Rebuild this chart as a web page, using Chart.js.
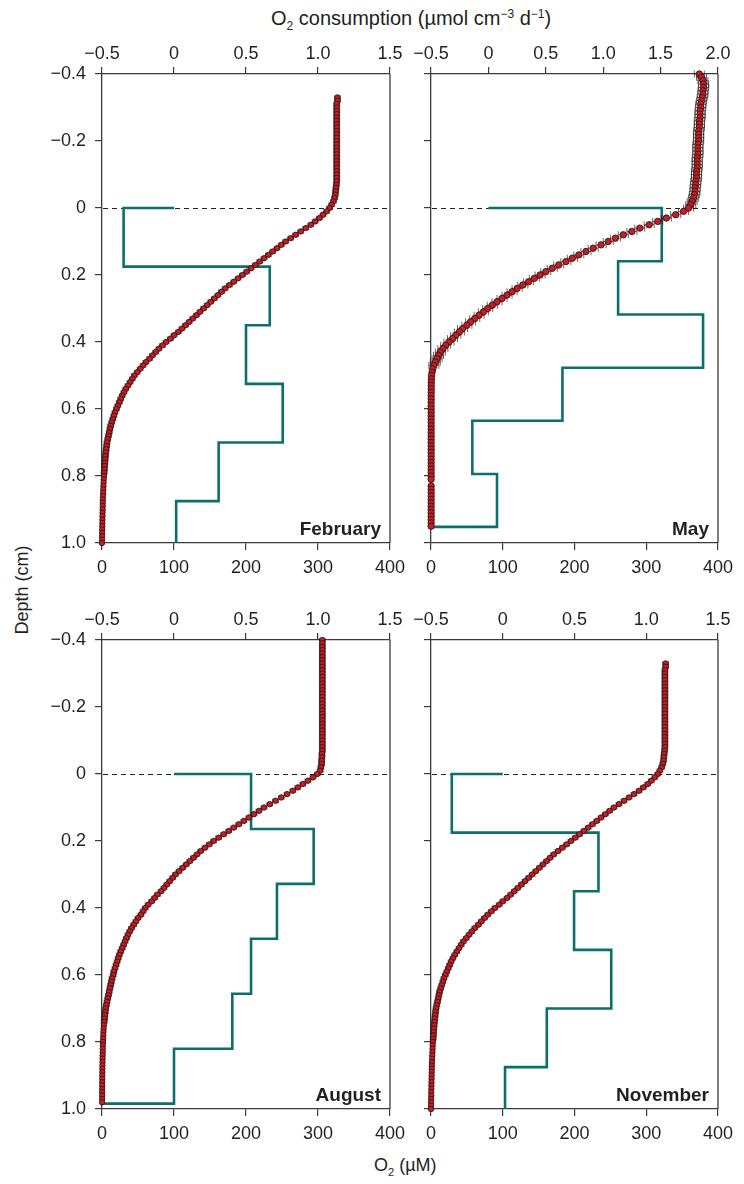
<!DOCTYPE html>
<html>
<head>
<meta charset="utf-8">
<title>O2 profiles</title>
<script src="https://cdn.jsdelivr.net/npm/chart.js@4.4.0/dist/chart.umd.min.js"></script>
<style>
body { margin:0; background:#fff; width:744px; height:1184px; position:relative; overflow:hidden;
       font-family:'Liberation Sans', Arial, sans-serif; color:#231f20; }
canvas { position:absolute; }
.lbl { position:absolute; font-size:18px; line-height:1; white-space:nowrap; }
.sb { font-size:11px; position:relative; top:5px; }
.sp { font-size:11px; position:relative; top:-7px; }
</style>
</head>
<body>
<div class="lbl" style="left:271px; top:8px; font-size:20px;">O<span class="sb" style="font-size:12px;">2</span> consumption (µmol cm<span class="sp" style="font-size:12px;">−3</span> d<span class="sp" style="font-size:12px;">−1</span>)</div>
<div class="lbl" style="left:22px; top:590px; transform:translate(-50%,-50%) rotate(-90deg);">Depth (cm)</div>
<div class="lbl" style="left:374px; top:1156px;">O<span class="sb">2</span> (µM)</div>

<canvas id="feb" width="420" height="550" style="left:0; top:30px;"></canvas>
<canvas id="may" width="334" height="550" style="left:410px; top:30px;"></canvas>
<canvas id="aug" width="420" height="560" style="left:0; top:590px;"></canvas>
<canvas id="nov" width="334" height="560" style="left:410px; top:590px;"></canvas>

<script>
// depth of each microsensor reading (cm), negative = water above sediment
const depth = [
  -0.40,-0.39,-0.38,-0.37,-0.36,-0.35,-0.34,-0.33,-0.32,-0.31,
  -0.30,-0.29,-0.28,-0.27,-0.26,-0.25,-0.24,-0.23,-0.22,-0.21,
  -0.20,-0.19,-0.18,-0.17,-0.16,-0.15,-0.14,-0.13,-0.12,-0.11,
  -0.10,-0.09,-0.08,-0.07,-0.06,-0.05,-0.04,-0.03,-0.02,-0.01,
  0.00,0.01,0.02,0.03,0.04,0.05,0.06,0.07,0.08,0.09,
  0.10,0.11,0.12,0.13,0.14,0.15,0.16,0.17,0.18,0.19,
  0.20,0.21,0.22,0.23,0.24,0.25,0.26,0.27,0.28,0.29,
  0.30,0.31,0.32,0.33,0.34,0.35,0.36,0.37,0.38,0.39,
  0.40,0.41,0.42,0.43,0.44,0.45,0.46,0.47,0.48,0.49,
  0.50,0.51,0.52,0.53,0.54,0.55,0.56,0.57,0.58,0.59,
  0.60,0.61,0.62,0.63,0.64,0.65,0.66,0.67,0.68,0.69,
  0.70,0.71,0.72,0.73,0.74,0.75,0.76,0.77,0.78,0.79,
  0.80,0.81,0.82,0.83,0.84,0.85,0.86,0.87,0.88,0.89,
  0.90,0.91,0.92,0.93,0.94,0.95,0.96,0.97,0.98,0.99,
  1.00
];

// O2 concentration (uM) at each depth
const febO2 = [
  null,null,null,null,null,null,null,327,327,326,
  326,326,326,326,326,326,326,326,326,326,
  326,326,326,326,326,326,326,326,326,326,
  326,326,326,325.5,325,324.5,324,323,321.5,319,
  316,312,307,302,296,290,283,276,269,262,
  255,249,243,237,231,225,219,213,207,201,
  195,189,183,177,171,166,161,156,151,146,
  141,136,131,126,121,116,111,106,100,95,
  89,84,79,74.5,70,66,61,57,53,49,
  45,42,39,36,33,30.5,28,26,24,22,
  20,18,16.5,15,13.5,12,11,10,9,8,
  7,6.4,5.8,5.3,4.8,4.4,4,3.6,3.3,3,
  2.7,2.4,2.2,2,1.8,1.6,1.4,1.2,1.1,1,
  0.9,0.8,0.7,0.6,0.5,0.4,0.3,0.2,0.1,0.1,
  0
];
const mayO2 = [
  374,377,379,380,380,379,379,378,377,376,
  376,375,375,375,374,374,374,373,373,373,
  373,372,372,372,372,371,371,371,371,370,
  370,370,369,369,368,368,367,366,364,362,
  359,352,341,328,316,304,291,280,268,257,
  247,237,226,216,206,197,188,178,169,160,
  152,144,136,128,120,113,106,99,92,85.5,
  79,73,67,61,55,50,44,39.5,34.5,30,
  25,20.5,16.5,13,10.5,8.5,6,4,2.5,1.5,
  0.8,0.5,0.4,0.3,0.3,0.3,0.2,0.2,0.2,0.2,
  0.2,0.2,0.2,0.2,0.2,0.2,0.2,0.2,0.2,0.2,
  0.2,0.2,0.2,0.2,0.2,0.2,0.2,0.2,0.2,0.2,
  0.2,0.2,null,0.2,0.2,0.2,0.2,0.2,0.2,0.2,
  0.2,0.2,0.2,0.2,0.2,0.1,null,null,null,null,
  null
];
const augO2 = [
  306,306,306,306,306,306,306,306,306,306,
  306,306,306,306,306,306,306,306,306,306,
  306,306,306,306,306,306,306,306,306,306,
  306,306,306,306,305.5,305.5,305,305,304,303,
  299,293,286,279,272,265,257,249,241,233,
  225,218,211,204,197,190,183,176,169,162,
  155,149,143,137,132,127,122,117,112,107,
  102,98,94,90,86,82,77,73,69,64,
  60,57,54,50,47,44,41,38.5,36,34,
  32,30,28,26,24,22.5,21,19.5,18,16.5,
  15.5,14,13,12,11,10,9,8,7,6,
  5.2,4.6,4,3.5,3,2.6,2.3,2,1.8,1.6,
  1.4,1.2,1.1,1,0.9,0.8,0.7,0.6,0.5,0.5,
  0.4,0.4,0.3,0.3,0.3,0.2,0.2,0.2,0.1,null,
  null
];
const novO2 = [
  null,null,null,null,null,null,null,327,327,326,
  326,326,326,326,326,326,326,326,326,326,
  326,326,326,326,326,326,326,326,326,326,
  326,326,326,325.5,325,324.5,324,323,321.5,319,
  316,312,307,302,296,290,283,276,269,262,
  255,249,243,237,231,225,219,213,207,201,
  195,189,183,177,171,166,161,156,151,146,
  141,136,131,126,121,116,111,106,100,95,
  89,84,79,74.5,70,66,61,57,53,49,
  45,42,39,36,33,30.5,28,26,24,22,
  20,18,16.5,15,13.5,12,11,10,9,8,
  7,6.4,5.8,5.3,4.8,4.4,4,3.6,3.3,3,
  2.7,2.4,2.2,2,1.8,1.6,1.4,1.2,1.1,1,
  0.9,0.8,0.7,0.6,0.5,0.4,0.3,0.2,0.1,0.1,
  0
];

// modelled O2 consumption: layer boundaries (cm) and rate in each layer (umol cm-3 d-1)
const febLayers = [0, 0.175, 0.35, 0.525, 0.7, 0.875, 1.0];
const febRate   = [-0.35, 0.665, 0.5, 0.755, 0.31, 0.015];
const mayLayers = [0, 0.159, 0.318, 0.477, 0.635, 0.794, 0.952, 0.952];
const mayRate   = [1.51, 1.13, 1.87, 0.645, -0.14, 0.075, -0.5];
const augLayers = [0, 0.164, 0.328, 0.492, 0.656, 0.82, 0.984, 0.984];
const augRate   = [0.535, 0.97, 0.715, 0.535, 0.405, 0.0, -0.5];
const novLayers = [0, 0.175, 0.35, 0.525, 0.7, 0.875, 1.0];
const novRate   = [-0.355, 0.667, 0.497, 0.756, 0.307, 0.016];

// typical O2 measurement error (uM)
const febErr = 4, mayErr = 7, augErr = 4, novErr = 4;

// tick labels
const depthTicks = [-0.4, -0.2, 0, 0.2, 0.4, 0.6, 0.8, 1.0];
const o2Ticks = [0, 100, 200, 300, 400];
const rateTicks = [-0.5, 0, 0.5, 1.0, 1.5];
const rateTicksMay = [-0.5, 0, 0.5, 1.0, 1.5, 2.0];

const FONT = "'Liberation Sans', Arial, sans-serif";
const INK = '#231f20';
const AXIS = '#3a3a3a';
Chart.defaults.font.family = FONT;
Chart.defaults.color = INK;

function fmt(v) {
  if (Math.abs(v) < 1e-9) return '0';
  return v.toFixed(1).replace('-', '\u2212');
}

const decor = {
  id: 'decor',
  beforeDatasetsDraw(chart, args, opts) {
    const {ctx, chartArea: a, scales: {y}} = chart;
    const y0 = Math.round(y.getPixelForValue(0)) + 0.5;
    ctx.save();
    ctx.strokeStyle = '#222';
    ctx.lineWidth = 1.2;
    ctx.setLineDash([5, 4]);
    ctx.beginPath();
    ctx.moveTo(a.left + 1, y0);
    ctx.lineTo(a.right, y0);
    ctx.stroke();
    ctx.restore();
  },
  beforeDatasetDraw(chart, args, opts) {
    if (args.index !== 0) return;
    const {ctx, scales: {x, y}} = chart;
    ctx.save();
    ctx.strokeStyle = 'rgba(30,30,30,0.75)';
    ctx.lineWidth = 0.9;
    ctx.beginPath();
    chart.data.datasets[0].data.forEach(p => {
      if (p.x < 3) return;
      const py = y.getPixelForValue(p.y);
      const x1 = x.getPixelForValue(p.x - opts.err);
      const x2 = x.getPixelForValue(p.x + opts.err);
      ctx.moveTo(x1, py); ctx.lineTo(x2, py);
      ctx.moveTo(x1, py - opts.cap); ctx.lineTo(x1, py + opts.cap);
      ctx.moveTo(x2, py - opts.cap); ctx.lineTo(x2, py + opts.cap);
    });
    ctx.stroke();
    ctx.restore();
  },
  afterDraw(chart, args, opts) {
    const {ctx, chartArea: a} = chart;
    ctx.save();
    ctx.strokeStyle = AXIS;
    ctx.lineWidth = 1.3;
    ctx.beginPath();
    ctx.moveTo(a.right, a.top);
    ctx.lineTo(a.right, a.bottom);
    ctx.stroke();
    ctx.fillStyle = INK;
    ctx.font = 'bold 19px ' + FONT;
    ctx.textAlign = 'right';
    ctx.textBaseline = 'alphabetic';
    ctx.fillText(opts.label, a.right - 9, a.bottom - 8);
    ctx.restore();
  }
};

function makePanel(id, label, o2, layers, rate, err, rTicks, left, top) {
  const pts = [];
  o2.forEach((v, i) => { if (v !== null) pts.push({x: v, y: depth[i]}); });
  const steps = [{x: 0, y: layers[0]}];
  rate.forEach((r, i) => {
    steps.push({x: r, y: layers[i]});
    steps.push({x: r, y: layers[i + 1]});
  });
  const big = id === 'may';
  const fixTicks = arr => s => { s.ticks = arr.map(v => ({value: v})); };
  const axisCommon = {
    grid: {drawOnChartArea: false, drawTicks: true, tickLength: 7, color: AXIS, lineWidth: 1.2},
    border: {display: true, color: AXIS, width: 1.3}
  };
  new Chart(document.getElementById(id), {
    type: 'line',
    data: {
      datasets: [
        {
          data: pts, showLine: false, xAxisID: 'x', yAxisID: 'y', clip: false,
          pointRadius: big ? 3.2 : 2.7, pointBorderWidth: 0.9,
          pointBackgroundColor: '#c0202a', pointBorderColor: '#3a1010'
        },
        {
          data: steps, xAxisID: 'x2', yAxisID: 'y', clip: false,
          borderColor: '#0b6f6f', borderWidth: 2.6, pointRadius: 0, tension: 0,
          borderJoinStyle: 'miter'
        }
      ]
    },
    options: {
      responsive: false,
      animation: false,
      layout: {padding: {left: 0, top: 0, bottom: 0, right: left ? 30 : 26}},
      plugins: {
        legend: {display: false},
        tooltip: {enabled: false},
        decor: {label: label, err: err, cap: big ? 3.5 : 2.2}
      },
      scales: {
        x: Object.assign({
          type: 'linear', position: 'bottom', min: 0, max: 400,
          afterBuildTicks: fixTicks(o2Ticks),
          afterFit: s => { s.height = top ? 37 : 41; },
          ticks: {autoSkip: false, maxRotation: 0, padding: 7, font: {size: 18}, color: INK,
                  callback: v => String(v)}
        }, axisCommon),
        x2: Object.assign({
          type: 'linear', position: 'top', min: -0.5, max: rTicks[rTicks.length - 1],
          afterBuildTicks: fixTicks(rTicks),
          afterFit: s => { s.height = top ? 44 : 50; },
          ticks: {autoSkip: false, maxRotation: 0, padding: 2, font: {size: 18}, color: INK,
                  callback: v => fmt(v)}
        }, axisCommon),
        y: Object.assign({
          type: 'linear', position: 'left', reverse: true, min: -0.4, max: 1.0,
          afterBuildTicks: fixTicks(depthTicks),
          afterFit: s => { s.width = left ? 102 : 21; },
          ticks: {display: left, autoSkip: false, padding: 9, font: {size: 18}, color: INK,
                  callback: v => fmt(v)}
        }, axisCommon)
      }
    },
    plugins: [decor]
  });
}

makePanel('feb', 'February', febO2, febLayers, febRate, febErr, rateTicks, true, true);
makePanel('may', 'May', mayO2, mayLayers, mayRate, mayErr, rateTicksMay, false, true);
makePanel('aug', 'August', augO2, augLayers, augRate, augErr, rateTicks, true, false);
makePanel('nov', 'November', novO2, novLayers, novRate, novErr, rateTicks, false, false);
</script>
</body>
</html>
